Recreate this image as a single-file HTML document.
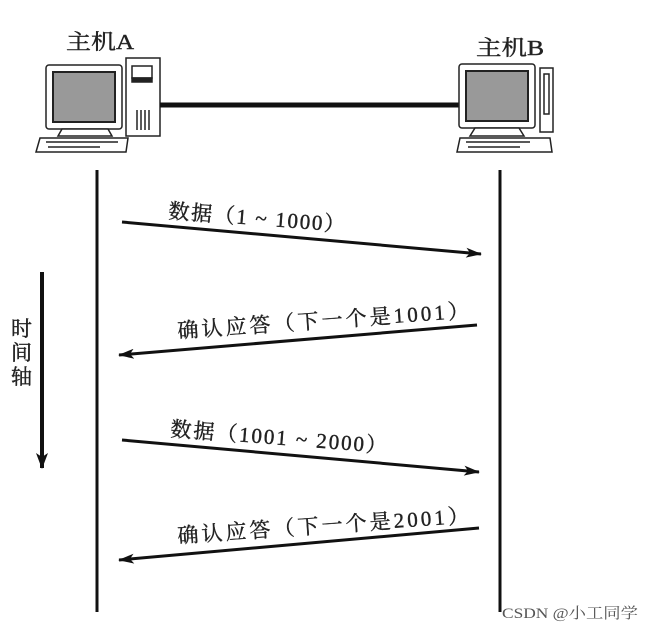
<!DOCTYPE html>
<html><head><meta charset="utf-8"><style>
body{margin:0;background:#fff}
svg text{font-family:"Liberation Serif","Noto Serif CJK SC","Noto Sans CJK SC",serif;fill:#222}
</style></head><body>
<svg width="654" height="630" viewBox="0 0 654 630" xmlns="http://www.w3.org/2000/svg">
<defs>
<marker id="ah" markerWidth="12" markerHeight="16" refX="6" refY="15" orient="0" markerUnits="userSpaceOnUse" viewBox="0 0 12 16"><path d="M0,0 L6,16 L12,0 L6,4 Z" fill="#111"/></marker>
<marker id="ah2" markerWidth="16" markerHeight="10" refX="15" refY="5" orient="auto" markerUnits="userSpaceOnUse" viewBox="0 0 16 10"><path d="M0,0 L16,5 L0,10 L4,5 Z" fill="#111"/></marker></defs>
<text x="66" y="49" font-size="21" textLength="68" lengthAdjust="spacingAndGlyphs" stroke="#222" stroke-width="0.4" font-family="Liberation Sans,Noto Sans CJK SC,sans-serif">主机A</text>
<text x="476" y="55" font-size="21" textLength="68" lengthAdjust="spacingAndGlyphs" stroke="#222" stroke-width="0.4" font-family="Liberation Sans,Noto Sans CJK SC,sans-serif">主机B</text>
<!-- Computer A -->
<g stroke="#222" stroke-width="1.5" fill="#fff">
<rect x="46" y="65" width="76" height="64" rx="3"/>
<rect x="53" y="72" width="62" height="50" fill="#999" stroke-width="2"/>
<rect x="126" y="58" width="34" height="78"/>
<rect x="132" y="66" width="20" height="12"/>
<rect x="132" y="78" width="20" height="4" fill="#222"/>
<path d="M137 110v20M141 110v20M145 110v20M149 110v20" />
<path d="M62 129 L58 136 L112 136 L108 129Z"/>
<path d="M40 138 L128 138 L126 152 L36 152Z"/>
<path d="M46 142 L118 142 M48 147 L100 147"/>
</g>
<line x1="160" y1="105" x2="460" y2="105" stroke="#111" stroke-width="5"/>
<!-- Computer B -->
<g stroke="#222" stroke-width="1.5" fill="#fff">
<rect x="540" y="68" width="13" height="64"/>
<rect x="544" y="74" width="5" height="40"/>
<rect x="459" y="64" width="76" height="64" rx="3"/>
<rect x="466" y="71" width="62" height="50" fill="#999" stroke-width="2"/>
<path d="M475 128 L470 136 L524 136 L519 128Z"/>
<path d="M460 138 L550 138 L552 152 L457 152Z"/>
<path d="M466 142 L530 142 M468 147 L520 147"/>
</g>
<line x1="97" y1="170" x2="97" y2="612" stroke="#111" stroke-width="3"/>
<line x1="500" y1="170" x2="500" y2="612" stroke="#111" stroke-width="3"/>
<!-- time axis -->
<line x1="42" y1="272" x2="42" y2="468" stroke="#111" stroke-width="4" marker-end="url(#ah)"/>
<text font-size="21" stroke="#222" stroke-width="0.4" font-family="Liberation Sans,Noto Sans CJK SC,sans-serif"><tspan x="11" y="336">时</tspan><tspan x="11" y="360">间</tspan><tspan x="11" y="384">轴</tspan></text>
<!-- arrows -->
<g stroke="#222" stroke-width="0.4">
<line x1="122" y1="222" x2="481" y2="254" stroke="#111" stroke-width="3" marker-end="url(#ah2)"/>
<text x="168" y="218" font-size="21" textLength="177" lengthAdjust="spacing" transform="rotate(4.5 168 218)">数据（1 ~ 1000）</text>
<line x1="477" y1="325" x2="119" y2="355" stroke="#111" stroke-width="3" marker-end="url(#ah2)"/>
<text x="178" y="338" font-size="21" textLength="292" lengthAdjust="spacing" transform="rotate(-4 178 338)">确认应答（下一个是1001）</text>
<line x1="122" y1="440" x2="479" y2="472" stroke="#111" stroke-width="3" marker-end="url(#ah2)"/>
<text x="170" y="436" font-size="21" textLength="217" lengthAdjust="spacing" transform="rotate(4.5 170 436)">数据（1001 ~ 2000）</text>
<line x1="479" y1="528" x2="119" y2="560" stroke="#111" stroke-width="3" marker-end="url(#ah2)"/>
<text x="178" y="543" font-size="21" textLength="292" lengthAdjust="spacing" transform="rotate(-4 178 543)">确认应答（下一个是2001）</text>
</g>
<text x="502" y="618" font-size="15" textLength="136" lengthAdjust="spacingAndGlyphs" font-family="Liberation Sans,Noto Sans CJK SC,sans-serif" style="fill:#555">CSDN @小工同学</text>
</svg>
</body></html>
